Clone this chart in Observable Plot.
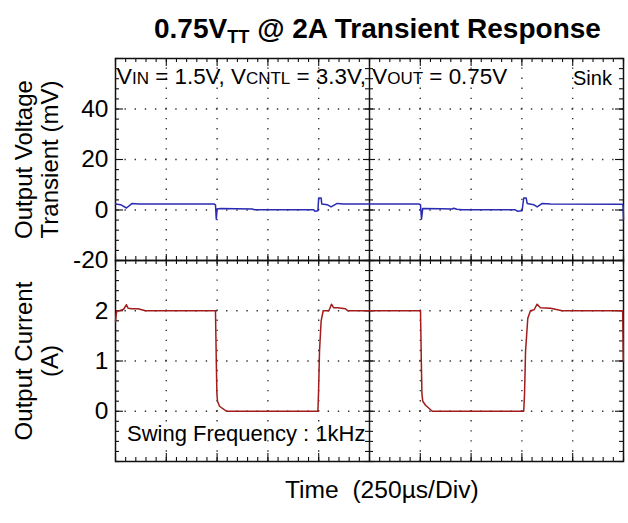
<!DOCTYPE html>
<html><head><meta charset="utf-8">
<script src="https://cdn.jsdelivr.net/npm/d3@7"></script>
<script src="https://cdn.jsdelivr.net/npm/@observablehq/plot@0.6"></script>
<style>
body{margin:0;background:#fff;}
#wrap{position:relative;width:628px;height:523px;font-family:"Liberation Sans",Arial,sans-serif;color:#000;overflow:hidden;background:#fff;}
.abs{position:absolute;white-space:pre;line-height:1;z-index:5;}
.pl{position:absolute;left:0;}
</style></head><body>
<div id="wrap">
  <div class="pl" id="topPlot" style="top:0"></div>
  <div class="pl" id="botPlot" style="top:260px"></div>
  <div class="abs" style="left:154px;top:15px;font-size:28px;font-weight:bold;">0.75V<span style="font-size:0.65em;position:relative;top:5px;">TT</span> @ 2A Transient Response</div>
  <div class="abs" style="left:117px;top:66px;font-size:22.4px;">V<span style="font-size:0.76em;">IN</span> = 1.5V, V<span style="font-size:0.76em;">CNTL</span> = 3.3V, V<span style="font-size:0.76em;">OUT</span> = 0.75V</div>
  <div class="abs" style="left:573px;top:68px;font-size:20px;">Sink</div>
  <div class="abs" style="left:127px;top:423px;font-size:22px;">Swing Frequency : 1kHz</div>
  <div class="abs" style="left:285px;top:478px;font-size:24.6px;">Time  (250µs/Div)</div>
</div>
<script>
// ---- data ----
// Output voltage transient, time in µs, value in mV
const voltT  = [0, 25, 54, 82, 113, 484, 492, 496, 500, 517, 673, 684, 976, 980, 996, 1000, 1012, 1015, 1042, 1061, 1091, 1123, 1493, 1501, 1506, 1512, 1600, 1657, 1665, 1680, 1706, 1968, 1977, 2001, 2009, 2021, 2026, 2058, 2075, 2100, 2141, 2494, 2498, 2500];
const voltMv = [2.4, 2.1, 0.8, 2.6, 2.4, 2.4, 2.0, -3.6, 0.4, 0.6, 0.4, 0.1, 0.1, -0.5, -0.3, 4.8, 4.8, 2.4, 2.1, 1.2, 2.6, 2.4, 2.4, 2.0, -3.6, 0.6, 0.5, 0.4, 0.7, 0.3, 0.1, 0.1, -0.5, -0.3, 4.8, 4.8, 2.6, 2.1, 1.2, 2.6, 2.4, 2.3, 1.6, -3.8];
// Output current, time in µs, value in A
const currT = [0, 4, 8, 20, 40, 54, 62, 80, 110, 148, 492, 496, 499, 502, 512, 525, 546, 996, 999, 1004, 1012, 1022, 1050, 1063, 1073, 1092, 1132, 1142, 1501, 1505, 1508, 1512, 1526, 1559, 2009, 2013, 2018, 2029, 2042, 2060, 2075, 2091, 2141, 2198, 2496, 2499, 2500];
const currA = [1.78, 1.95, 2.0, 2.0, 2.03, 2.12, 2.05, 2.04, 2.04, 2.0, 2.0, 1.0, 0.35, 0.2, 0.1, 0.06, 0.0, 0.0, 0.35, 1.2, 1.8, 2.0, 2.0, 2.13, 2.06, 2.06, 2.04, 2.0, 2.0, 1.0, 0.35, 0.2, 0.12, 0.0, 0.0, 0.35, 1.2, 1.85, 2.0, 2.02, 2.13, 2.06, 2.05, 2.0, 2.0, 1.0, 1.0];
// axes
const timeDomain = [0, 2500];      // µs, 250 µs/div
const timeDivs = [0, 250, 500, 750, 1000, 1250, 1500, 1750, 2000, 2250, 2500];
const voltDomain = [-20, 60];
const voltTicks = [-20, 0, 20, 40];
const voltDivs = [-20, 0, 20, 40, 60];
const currDomain = [-1, 3];
const currTicks = [0, 1, 2];
const currDivs = [-1, 0, 1, 2, 3];
const yTitleTop = "Output Voltage\nTransient (mV)";
const yTitleBot = "Output Current\n(A)";

const voltRows = voltT.map((t, i) => ({t, v: voltMv[i]}));
const currRows = currT.map((t, i) => ({t, a: currA[i]}));

// ---- layout ----
const W = 628, ML = 115, MR = 5;
const innerW = W - ML - MR;
const pxX = (timeDomain[1] - timeDomain[0]) / innerW;
const tMid = 1250;
const minorX = d3.range(0, 2500.1, 50);
const gridX = timeDivs.filter(d => d !== 0 && d !== 2500 && d !== tMid);
const ink = "#111";

function panel({H, MT, MB, domain, ticks, divs, minorStep, title, rows, yKey, color, topLen, bottomLen}) {
  const innerH = H - MT - MB;
  const pxY = (domain[1] - domain[0]) / innerH;
  const minorY = d3.range(domain[0], domain[1] + minorStep / 2, minorStep);
  const gridY = divs.filter(d => d !== domain[0] && d !== domain[1]);
  const dotX = innerW / 50, dotY = innerH / 20;
  const tick = {stroke: ink, strokeWidth: 1.1};
  const marks = [
    // dotted grid
    Plot.ruleX(gridX, {x: d => d, stroke: "#333", strokeWidth: 1.4, strokeDasharray: `1.4,${dotY - 1.4}`, strokeDashoffset: 0.7}),
    Plot.ruleY(gridY, {y: d => d, stroke: "#333", strokeWidth: 1.4, strokeDasharray: `1.4,${dotX - 1.4}`, strokeDashoffset: 0.7}),
    // left / right border ticks
    Plot.ruleY(minorY, {y: d => d, x1: 0, x2: 4 * pxX, ...tick}),
    Plot.ruleY(divs, {y: d => d, x1: 0, x2: 8 * pxX, ...tick}),
    Plot.ruleY(minorY, {y: d => d, x1: 2500 - 4 * pxX, x2: 2500, ...tick}),
    Plot.ruleY(divs, {y: d => d, x1: 2500 - 8 * pxX, x2: 2500, ...tick}),
    // centre vertical line ticks
    Plot.ruleY(minorY, {y: d => d, x1: tMid - 4 * pxX, x2: tMid + 4 * pxX, ...tick}),
    Plot.ruleY(divs, {y: d => d, x1: tMid - 6 * pxX, x2: tMid + 6 * pxX, ...tick}),
    // top / bottom edge ticks
    Plot.ruleX(minorX, {x: d => d, y1: domain[1] - 4 * pxY, y2: domain[1], ...tick}),
    Plot.ruleX(timeDivs, {x: d => d, y1: domain[1] - topLen * pxY, y2: domain[1], ...tick}),
    Plot.ruleX(minorX, {x: d => d, y1: domain[0], y2: domain[0] + 4 * pxY, ...tick}),
    Plot.ruleX(timeDivs, {x: d => d, y1: domain[0], y2: domain[0] + bottomLen * pxY, ...tick}),
    Plot.ruleX([tMid], {x: d => d, stroke: ink, strokeWidth: 1.5}),
    Plot.frame({stroke: ink, strokeWidth: 1.5}),
    Plot.axisY({ticks, tickSize: 0, tickPadding: 7, fontSize: 24.5, tickFormat: d => String(d), label: null, fill: "#000"}),
    Plot.text([title], {text: d => d, frameAnchor: "left", textAnchor: "middle", lineAnchor: "middle", dx: -79, rotate: -90, fontSize: 24, lineHeight: 1.1, fill: "#000"}),
    Plot.line(rows, {x: "t", y: yKey, stroke: color, strokeWidth: 1.5})
  ];
  return Plot.plot({
    width: W, height: H,
    marginTop: MT, marginBottom: MB, marginLeft: ML, marginRight: MR,
    style: {background: "transparent", overflow: "visible", fontFamily: "'Liberation Sans', Arial, sans-serif", color: "#000"},
    x: {domain: timeDomain, axis: null},
    y: {domain},
    marks
  });
}

document.getElementById("topPlot").appendChild(panel({
  H: 260, MT: 58, MB: 0, domain: voltDomain, ticks: voltTicks, divs: voltDivs, minorStep: 4,
  title: yTitleTop, rows: voltRows, yKey: "v", color: "#2a2ab4", topLen: 8, bottomLen: 6
}));
document.getElementById("botPlot").appendChild(panel({
  H: 263, MT: 0, MB: 62, domain: currDomain, ticks: currTicks, divs: currDivs, minorStep: 0.2,
  title: yTitleBot, rows: currRows, yKey: "a", color: "#a21c1c", topLen: 6, bottomLen: 8
}));
</script>
</body></html>
